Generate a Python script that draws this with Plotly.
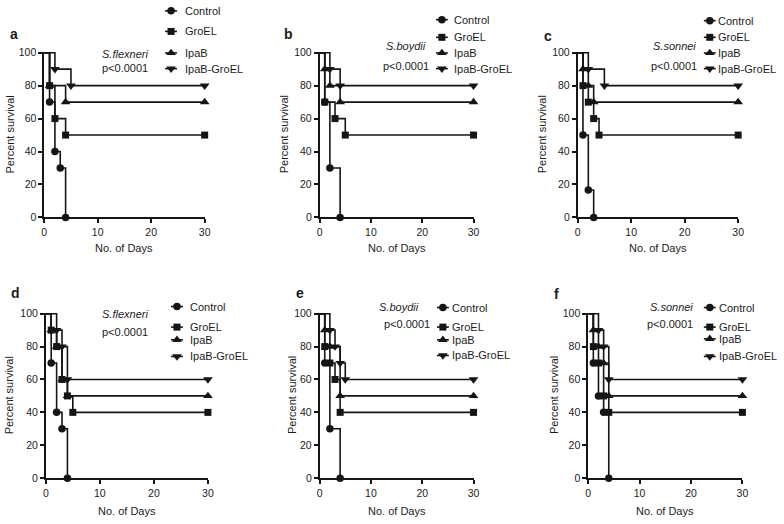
import plotly.graph_objects as go

# ---------------- data ----------------
GROUPS = ["Control", "GroEL", "IpaB", "IpaB-GroEL"]
PANEL_LETTERS = ["a", "b", "c", "d", "e", "f"]
SPECIES = ["S.flexneri", "S.boydii", "S.sonnei", "S.flexneri", "S.boydii", "S.sonnei"]
P_TEXT = "p<0.0001"
X_TICKS = [0, 10, 20, 30]
Y_TICKS = [0, 20, 40, 60, 80, 100]
X_TITLE = "No. of Days"
Y_TITLE = "Percent survival"

# panel a  (S. flexneri)
a_control_days = [0, 1, 2, 3, 4]
a_control_surv = [100, 70, 40, 30, 0]
a_groel_days = [0, 1, 2, 4, 30]
a_groel_surv = [100, 80, 60, 50, 50]
a_ipab_days = [0, 1, 4, 30]
a_ipab_surv = [100, 80, 70, 70]
a_ipabgroel_days = [0, 2, 5, 30]
a_ipabgroel_surv = [100, 90, 80, 80]

# panel b  (S. boydii)
b_control_days = [0, 1, 2, 4]
b_control_surv = [100, 70, 30, 0]
b_groel_days = [0, 1, 3, 5, 30]
b_groel_surv = [100, 70, 60, 50, 50]
b_ipab_days = [0, 1, 2, 4, 30]
b_ipab_surv = [100, 90, 80, 70, 70]
b_ipabgroel_days = [0, 2, 4, 30]
b_ipabgroel_surv = [100, 90, 80, 80]

# panel c  (S. sonnei)
c_control_days = [0, 1, 2, 3]
c_control_surv = [100, 50, 16.7, 0]
c_groel_days = [0, 1, 2, 3, 4, 30]
c_groel_surv = [100, 80, 70, 60, 50, 50]
c_ipab_days = [0, 1, 2, 3, 30]
c_ipab_surv = [100, 90, 80, 70, 70]
c_ipabgroel_days = [0, 2, 5, 30]
c_ipabgroel_surv = [100, 90, 80, 80]

# panel d  (S. flexneri)
d_control_days = [0, 1, 2, 3, 4]
d_control_surv = [100, 70, 40, 30, 0]
d_groel_days = [0, 1, 2, 3, 4, 5, 30]
d_groel_surv = [100, 90, 80, 60, 50, 40, 40]
d_ipab_days = [0, 1, 2, 3, 4, 30]
d_ipab_surv = [100, 90, 80, 60, 50, 50]
d_ipabgroel_days = [0, 2, 3, 4, 30]
d_ipabgroel_surv = [100, 90, 80, 60, 60]

# panel e  (S. boydii)
e_control_days = [0, 1, 2, 4]
e_control_surv = [100, 70, 30, 0]
e_groel_days = [0, 1, 2, 3, 4, 30]
e_groel_surv = [100, 80, 70, 60, 40, 40]
e_ipab_days = [0, 1, 2, 4, 30]
e_ipab_surv = [100, 90, 80, 50, 50]
e_ipabgroel_days = [0, 2, 3, 4, 5, 30]
e_ipabgroel_surv = [100, 90, 80, 70, 60, 60]

# panel f  (S. sonnei)
f_control_days = [0, 1, 2, 3, 4]
f_control_surv = [100, 70, 50, 40, 0]
f_groel_days = [0, 1, 2, 3, 4, 30]
f_groel_surv = [100, 80, 70, 50, 40, 40]
f_ipab_days = [0, 1, 2, 3, 4, 30]
f_ipab_surv = [100, 90, 80, 70, 50, 50]
f_ipabgroel_days = [0, 2, 3, 4, 30]
f_ipabgroel_surv = [100, 90, 80, 60, 60]

PANEL_SERIES = {
    "a": [(a_control_days, a_control_surv), (a_groel_days, a_groel_surv),
          (a_ipab_days, a_ipab_surv), (a_ipabgroel_days, a_ipabgroel_surv)],
    "b": [(b_control_days, b_control_surv), (b_groel_days, b_groel_surv),
          (b_ipab_days, b_ipab_surv), (b_ipabgroel_days, b_ipabgroel_surv)],
    "c": [(c_control_days, c_control_surv), (c_groel_days, c_groel_surv),
          (c_ipab_days, c_ipab_surv), (c_ipabgroel_days, c_ipabgroel_surv)],
    "d": [(d_control_days, d_control_surv), (d_groel_days, d_groel_surv),
          (d_ipab_days, d_ipab_surv), (d_ipabgroel_days, d_ipabgroel_surv)],
    "e": [(e_control_days, e_control_surv), (e_groel_days, e_groel_surv),
          (e_ipab_days, e_ipab_surv), (e_ipabgroel_days, e_ipabgroel_surv)],
    "f": [(f_control_days, f_control_surv), (f_groel_days, f_groel_surv),
          (f_ipab_days, f_ipab_surv), (f_ipabgroel_days, f_ipabgroel_surv)],
}

# ---------------- styling / layout geometry (pixels) ----------------
W, H = 784, 524
FONT = "Liberation Sans, Arial, sans-serif"
INK = "#1c1c1c"
LINE = "#151515"
SYMBOLS = ["circle", "square", "triangle-up", "triangle-down"]
MSIZE = [7.5, 7, 8.5, 8.5]
LW = 1.6

# plot boxes: x at day 0, x at day 30, y at 100 %, y at 0 %
BOX = {
    "a": (41.7, 204.0, 47.7, 217.0),
    "b": (320.3, 476.0, 47.7, 217.0),
    "c": (581.3, 743.7, 47.7, 217.0),
    "d": (43.3, 207.3, 314.3, 483.3),
    "e": (320.3, 476.0, 314.3, 483.3),
    "f": (592.0, 748.0, 314.3, 483.3),
}
LETTER_POS = {"a": (5, 30), "b": (282, 30), "c": (545, 32),
              "d": (6, 294), "e": (294, 294), "f": (555, 295)}
SPECIES_POS = {"a": ((123, 50), (123, 64)), "b": ((408, 42), (408, 62)),
               "c": ((679, 42), (679, 62)), "d": ((123, 316), (123, 334)),
               "e": ((401, 308), (409, 326)), "f": ((676, 308), (675, 326))}
LEGEND_POS = {  # marker x, text x, item y's
    "a": (170, 182, [6, 27, 49, 65]),
    "b": (444, 454, [15, 33, 49, 65]),
    "c": (715, 721, [16, 33, 49, 65]),
    "d": (176, 187, [308, 329, 342, 359]),
    "e": (445, 452, [309, 329, 342, 358]),
    "f": (715, 722, [309, 329, 341, 359]),
}
YTITLE_X = {"a": 7, "b": 284, "c": 545, "d": 6, "e": 293, "f": 558}
XTITLE_Y = {"top": 248, "bottom": 517}


def px(x):
    return x / W


def py(y):
    return 1 - y / H


fig = go.Figure()
annotations = []

for i, letter in enumerate(PANEL_LETTERS):
    n = i + 1
    xa = "x" if n == 1 else f"x{n}"
    ya = "y" if n == 1 else f"y{n}"
    x0, x1, yt, yb = BOX[letter]

    axis_common = dict(showline=True, linewidth=1.6, linecolor=LINE,
                       ticks="outside", ticklen=4, tickwidth=1.6, tickcolor=LINE,
                       showgrid=False, zeroline=False,
                       tickfont=dict(family=FONT, size=10.5, color=INK))
    fig.layout[f"xaxis{'' if n == 1 else n}"] = dict(
        domain=[px(x0), px(x1)], range=[0, 30], anchor=ya,
        tickvals=X_TICKS, **axis_common)
    fig.layout[f"yaxis{'' if n == 1 else n}"] = dict(
        domain=[py(yb), py(yt)], range=[0, 100.6], anchor=xa,
        tickvals=Y_TICKS, **axis_common)

    for g, (days, surv) in enumerate(PANEL_SERIES[letter]):
        fig.add_trace(go.Scatter(
            x=days, y=surv, mode="lines", line=dict(color=LINE, width=LW, shape="hv"),
            xaxis=xa, yaxis=ya, showlegend=False, hoverinfo="skip"))
        fig.add_trace(go.Scatter(
            x=days[1:], y=surv[1:], mode="markers", cliponaxis=False,
            marker=dict(symbol=SYMBOLS[g], size=MSIZE[g], color=LINE,
                        line=dict(width=0)),
            xaxis=xa, yaxis=ya, showlegend=False, name=GROUPS[g]))

    # panel letter
    lx, ly = LETTER_POS[letter]
    annotations.append(dict(text=f"<b>{letter}</b>", x=px(lx), y=py(ly), xref="paper",
                            yref="paper", xanchor="left", yanchor="middle", showarrow=False,
                            font=dict(family=FONT, size=14, color=INK)))
    # species and p value
    (sx, sy), (qx, qy) = SPECIES_POS[letter]
    annotations.append(dict(text=f"<i>{SPECIES[i]}</i>", x=px(sx), y=py(sy), xref="paper",
                            yref="paper", xanchor="center", yanchor="middle", showarrow=False,
                            font=dict(family=FONT, size=11, color=INK)))
    annotations.append(dict(text=P_TEXT, x=px(qx), y=py(qy), xref="paper",
                            yref="paper", xanchor="center", yanchor="middle", showarrow=False,
                            font=dict(family=FONT, size=11, color=INK)))
    # axis titles
    annotations.append(dict(text=Y_TITLE, x=px(YTITLE_X[letter]), y=py((yt + yb) / 2),
                            xref="paper", yref="paper", textangle=-90, xanchor="center",
                            yanchor="middle", showarrow=False,
                            font=dict(family=FONT, size=11, color=INK)))
    annotations.append(dict(text=X_TITLE, x=px((x0 + x1) / 2),
                            y=py(XTITLE_Y["top" if i < 3 else "bottom"]),
                            xref="paper", yref="paper", xanchor="center",
                            yanchor="middle", showarrow=False,
                            font=dict(family=FONT, size=11, color=INK)))

    # legend (drawn on an overlay axis in pixel units)
    mx, tx, ys = LEGEND_POS[letter]
    for g, yy in enumerate(ys):
        fig.add_trace(go.Scatter(
            x=[mx - 6, mx + 6], y=[yy, yy], mode="lines",
            line=dict(color=LINE, width=LW), xaxis="x7", yaxis="y7",
            showlegend=False, hoverinfo="skip"))
        fig.add_trace(go.Scatter(
            x=[mx], y=[yy], mode="markers", cliponaxis=False,
            marker=dict(symbol=SYMBOLS[g], size=MSIZE[g], color=LINE, line=dict(width=0)),
            xaxis="x7", yaxis="y7", showlegend=False, hoverinfo="skip"))
        annotations.append(dict(text=GROUPS[g], x=px(tx), y=py(yy), xref="paper",
                                yref="paper", xanchor="left", yanchor="middle",
                                showarrow=False, font=dict(family=FONT, size=11, color=INK)))

fig.layout["xaxis7"] = dict(domain=[0, 1], range=[0, W], visible=False, anchor="y7")
fig.layout["yaxis7"] = dict(domain=[0, 1], range=[H, 0], visible=False, anchor="x7")

fig.update_layout(
    width=W, height=H, margin=dict(l=0, r=0, t=0, b=0),
    paper_bgcolor="white", plot_bgcolor="rgba(0,0,0,0)",
    showlegend=False, annotations=annotations,
    font=dict(family=FONT, size=11, color=INK),
)

fig.write_html(
    "out.html",
    config={"displayModeBar": False},
    post_script="document.body.style.margin='0px';document.body.style.overflow='hidden';",
)
